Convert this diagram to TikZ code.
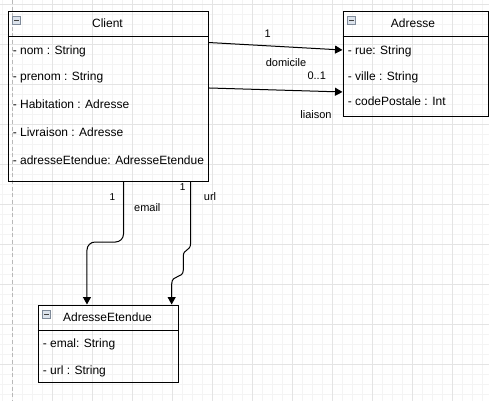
\documentclass[tikz,border=0pt]{standalone}
\usepackage{fontspec}
\setmainfont{Liberation Sans}
\usetikzlibrary{arrows.meta}
\definecolor{gminor}{HTML}{F4F4F4}
\definecolor{gmajor}{HTML}{E4E4E4}
\definecolor{gdash}{HTML}{B8B8B8}
\definecolor{iconfill}{HTML}{DCE3EC}
\definecolor{iconline}{HTML}{7F8A99}
\tikzset{
  classbox/.style={draw=black, line width=0.75pt, inner sep=0pt, anchor=north west},
  ttl/.style={inner sep=0pt, font=\fontsize{9pt}{10pt}\selectfont, text height=6.4pt, text depth=0pt},
  attr/.style={inner sep=0pt, anchor=west, font=\fontsize{9pt}{10pt}\selectfont, text height=6.4pt, text depth=0pt},
  lbl/.style={inner sep=0pt, font=\fontsize{8.25pt}{9pt}\selectfont, text height=5.9pt, text depth=0pt},
  lblsmall/.style={inner sep=0pt, font=\fontsize{7.5pt}{8pt}\selectfont, text height=5.4pt, text depth=0pt},
  conn/.style={draw=black, line width=0.75pt, -{Triangle[length=5.6pt,width=6pt]}},
  iconbox/.style={draw=iconline, fill=iconfill, line width=0.5pt, minimum size=6pt, inner sep=0pt,
    path picture={\draw[black!75, line width=0.75pt] ([xshift=1.3pt]path picture bounding box.west) -- ([xshift=-1.3pt]path picture bounding box.east);}},
}
\begin{document}
\begin{tikzpicture}[x=0.75pt,y=-0.75pt]
\useasboundingbox (0,0) rectangle (489,401);
% background grid
\fill[white] (0,0) rectangle (489,401);
\foreach \x in {2,12,...,482} \draw[gminor, line width=0.75pt] (\x,0) -- (\x,401);
\foreach \y in {4,14,...,394} \draw[gminor, line width=0.75pt] (0,\y) -- (489,\y);
\foreach \x in {52,92,...,452} \draw[gmajor, line width=0.75pt] (\x,0) -- (\x,401);
\foreach \y in {4,44,...,364} \draw[gmajor, line width=0.75pt] (0,\y) -- (489,\y);
\draw[gdash, line width=0.75pt, dash pattern=on 3pt off 2pt] (12,0) -- (12,401);

% Client
\node[classbox, minimum width=150pt, minimum height=127.5pt] (client) at (7.5,10.5) {};
\draw[line width=0.75pt] (7.5,36) -- (207.5,36);
\node[iconbox] (clienticon) at (16.5,20.5) {};
\node[ttl] (clientT) at (107.5,23.5) {Client};
\node[attr] (c1) at (12.5,50) {- nom : String};
\node[attr] (c2) at (12.5,76) {- prenom : String};
\node[attr] (c3) at (12.5,104) {- Habitation : Adresse};
\node[attr] (c4) at (12.5,132) {- Livraison : Adresse};
\node[attr] (c5) at (12.5,160) {- adresseEtendue: AdresseEtendue};

% Adresse
\node[classbox, minimum width=108.75pt, minimum height=78.75pt] (adresse) at (342.5,10.5) {};
\draw[line width=0.75pt] (342.5,36) -- (487.5,36);
\node[iconbox] (adresseicon) at (351.5,20.5) {};
\node[ttl] (adresseT) at (413,23.5) {Adresse};
\node[attr] (a1) at (347.5,50) {- rue: String};
\node[attr] (a2) at (347.5,76) {- ville : String};
\node[attr] (a3) at (347.5,101) {- codePostale : Int};

% AdresseEtendue
\node[classbox, minimum width=105pt, minimum height=58.125pt] (ae) at (37.5,304.5) {};
\draw[line width=0.75pt] (37.5,330) -- (177.5,330);
\node[iconbox] (aeicon) at (46.5,314.5) {};
\node[ttl] (aeT) at (107.5,317.5) {AdresseEtendue};
\node[attr] (e1) at (42.5,343.5) {- emal: String};
\node[attr] (e2) at (42.5,370) {- url : String};

% connectors
\draw[conn] ([yshift=-24pt]client.north east) -- (adresse.west |- a1.west);
\draw[conn] ([yshift=-58.1pt]client.north east) -- ([yshift=-61.1pt]adresse.north west);
\draw[conn, rounded corners=6pt] ([xshift=87pt]client.south west) -- (123.5,242) -- (87,242) -- ([xshift=37.1pt]ae.north west);
\draw[conn] ([xshift=137.25pt]client.south west) -- (190.5,244)
   .. controls (190.5,251) and (183.3,249) .. (183.3,256) -- (183.3,270)
   .. controls (183.3,279) and (171.7,274) .. (171.7,284) -- ([xshift=100.6pt]ae.north west);

% labels
\node[lbl] (l1) at (267.7,34) {1};
\node[lbl] (ldom) at (286,62.3) {domicile};
\node[lbl] (l01) at (316.7,76) {0..1};
\node[lbl] (llia) at (316,114.3) {liaison};
\node[lblsmall] (le1) at (112.3,196.7) {1};
\node[lbl] (lemail) at (147.3,207.3) {email};
\node[lblsmall] (lu1) at (182.7,187.3) {1};
\node[lbl] (lurl) at (210,196.7) {url};
\end{tikzpicture}
\end{document}
